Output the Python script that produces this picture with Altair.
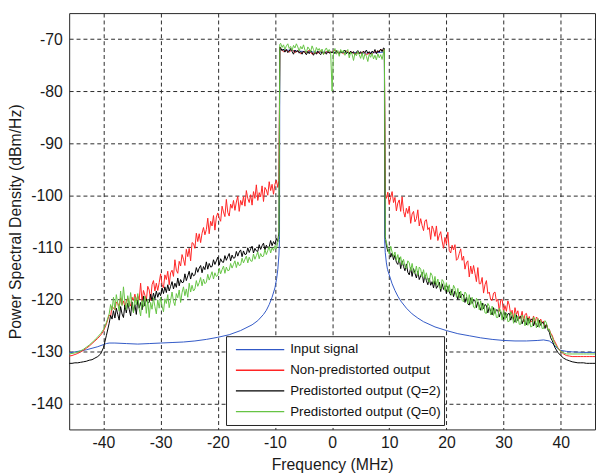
import altair as alt
import numpy as np
import pandas as pd

SERIES = ["Input signal", "Non-predistorted output",
          "Predistorted output (Q=2)", "Predistorted output (Q=0)"]
COLORS = ["#3158c6", "#ff2424", "#000000", "#66c444"]

X_TICKS = [-40, -30, -20, -10, 0, 10, 20, 30, 40]
Y_TICKS = [-140, -130, -120, -110, -100, -90, -80, -70]

# ---------------- frequency sample positions (MHz)
LEFT_F = ([round(v, 2) for v in np.arange(-46.0, -39.4, 0.5)]      # -46 .. -39.5
          + [round(v, 2) for v in np.arange(-39.0, -9.49, 0.25)]   # -39 .. -9.5
          + [-9.3])
RIGHT_F = ([9.3]
           + [round(v, 2) for v in np.arange(9.5, 39.01, 0.25)]    # 9.5 .. 39
           + [round(v, 2) for v in np.arange(39.5, 46.01, 0.5)])   # 39.5 .. 46
PASS_F_COARSE = [-9.15, -9.0, -8.5, -8.0, -7.5, -7.0, -6.5, -6.0, -5.5, -5.0, -4.5,
                 -4.0, -3.5, -3.0, -2.5, -2.0, -1.5, -1.0, -0.5, -0.1, 0.0, 0.1, 0.5,
                 1.0, 1.5, 2.0, 2.5, 3.0, 3.5, 4.0, 4.5, 5.0, 5.5, 6.0, 6.5, 7.0, 7.5,
                 8.0, 8.5, 9.0, 9.15]
PASS_F_FINE = [-9.15] + [round(v, 2) for v in np.arange(-9.0, 9.01, 0.25)] + [9.15]

# ---------------- Non-predistorted output (red)
RED_LEFT_OUT = [-130.9, -130.8, -130.6, -130.4, -130.1, -129.8, -129.4, -129.0, -128.5,
                -128.0, -127.5, -126.9, -126.1, -124.8]
RED_LEFT = [-123.0, -123.3, -121.3, -121.7, -122.0, -120.5, -120.8, -121.4,
            -119.7, -121.0, -120.3, -121.4, -120.4, -119.7, -120.7, -121.3,
            -119.6, -120.2, -119.0, -120.3, -119.3, -120.1, -116.9, -120.4,
            -118.3, -119.2, -120.2, -117.5, -118.2, -120.2, -117.2, -116.4,
            -118.4, -116.9, -118.3, -116.8, -115.1, -117.2, -117.8, -115.3,
            -116.2, -114.6, -117.2, -114.9, -114.4, -115.6, -112.4, -114.4,
            -115.0, -112.7, -113.6, -111.4, -112.3, -113.5, -110.4, -111.8,
            -110.2, -112.6, -109.1, -109.3, -110.2, -107.3, -108.9, -107.4,
            -109.1, -107.3, -106.2, -107.6, -106.6, -104.4, -107.4, -105.0,
            -105.9, -103.9, -106.7, -104.2, -103.4, -104.4, -105.0, -102.1,
            -103.2, -104.1, -100.8, -103.3, -104.0, -101.7, -102.5, -101.0,
            -102.9, -101.3, -100.2, -103.1, -101.0, -101.9, -100.2, -102.1,
            -99.1, -100.6, -101.4, -99.9, -101.9, -99.3, -100.6, -98.0,
            -101.0, -99.5, -100.3, -98.2, -101.2, -98.5, -99.0, -100.0,
            -97.4, -99.1, -97.9, -99.8, -97.9, -97.1, -98.5,
            -97.2]
RED_PASS = [-71.6, -71.9, -72.4, -72.1, -72.5, -72.0, -72.6, -72.2, -72.8, -72.4, -72.6,
            -72.1, -72.9, -72.5, -72.7, -72.3, -72.8, -72.4, -72.6, -72.5, -72.5, -72.5,
            -72.1, -72.7, -72.4, -72.8, -72.3, -72.6, -72.5, -72.9, -72.6, -72.7, -72.4,
            -73.0, -72.7, -72.8, -72.4, -72.5, -72.0, -72.3, -71.9]
RED_RIGHT = [-99.6,
             -100.6, -99.4,
             -101.8, -100.4, -99.3, -101.4, -100.4, -103.0, -101.5, -100.9,
             -103.1, -100.3, -103.1, -104.2, -102.5, -103.5, -102.1, -105.4,
             -103.6, -103.1, -105.1, -104.5, -102.8, -105.9, -104.5, -105.8,
             -106.8, -104.9, -104.7, -106.6, -106.2, -108.5, -105.9, -106.6,
             -107.9, -105.9, -108.7, -107.7, -107.0, -108.8, -110.2, -108.1,
             -109.4, -107.1, -110.6, -111.1, -109.6, -110.5, -109.5, -112.5,
             -112.2, -111.2, -110.3, -112.5, -111.7, -114.2, -113.0, -112.6,
             -115.7, -113.6, -115.1, -113.5, -115.0, -116.6, -113.9, -117.0,
             -117.0, -115.8, -118.8, -117.2, -116.4, -118.9, -118.6, -120.1,
             -120.2, -118.8, -118.6, -120.4, -120.0, -122.3, -120.2, -120.0,
             -122.5, -121.2, -122.3, -120.3, -121.1, -123.0, -122.1, -123.9,
             -121.6, -122.9, -122.2, -123.8, -123.5, -122.3, -124.3, -122.9,
             -122.7, -124.1, -123.3, -124.4, -124.1, -123.2, -124.8, -123.4,
             -123.7, -124.6, -123.8, -124.6, -124.2, -125.2, -124.8, -125.7,
             -125.8, -126.5, -126.9, -127.7,
             -128.2,
             -129.3, -130.0, -130.5, -130.8, -130.9, -131.0, -131.0, -131.0, -131.0,
             -131.0, -131.0, -131.0, -131.0, -131.0]

# ---------------- Predistorted output (Q=2) (black)
BLACK_LEFT_OUT = [-132.3, -132.3, -132.2, -132.2, -132.1, -132.0, -131.9, -131.7, -131.6,
                  -131.3, -131.0, -130.5, -129.3, -127.0]
BLACK_LEFT = [-124.6, -123.1, -123.8, -122.2, -123.6, -121.7, -122.9, -124.0,
              -121.4, -122.8, -123.5, -121.1, -122.6, -120.7, -121.9, -123.2,
              -120.5, -122.4, -121.0, -122.9, -120.1, -121.7, -120.6, -122.0,
              -119.4, -121.3, -119.9, -120.7, -120.6, -119.0, -120.3, -118.8,
              -119.9, -118.4, -119.6, -118.7, -119.3, -117.8, -118.9, -117.6,
              -118.7, -117.2, -118.4, -117.5, -116.6, -118.0, -116.9, -117.7,
              -115.9, -117.4, -116.2, -116.8, -116.7, -115.1, -116.4, -115.5,
              -114.6, -116.1, -114.9, -115.5, -115.3, -113.9, -114.8, -114.0,
              -113.5, -114.9, -113.7, -114.3, -112.8, -114.2, -113.1, -113.8,
              -113.7, -112.4, -113.3, -112.6, -111.9, -113.4, -112.2, -112.8,
              -112.9, -111.6, -112.5, -111.8, -111.2, -112.6, -111.5, -112.1,
              -112.0, -110.8, -111.7, -110.9, -110.5, -111.8, -110.7, -111.4,
              -111.3, -110.1, -111.0, -110.3, -109.8, -111.1, -110.2, -110.7,
              -110.8, -109.5, -110.4, -109.7, -109.2, -110.5, -109.6, -110.1,
              -109.9, -108.7, -109.7, -108.9, -109.4, -108.3, -108.9,
              -107.0]
BLACK_PASS = [-71.5,
              -71.7, -72.2, -71.9, -72.5, -72.0, -72.6, -72.3, -71.8,
              -72.4, -72.9, -72.1, -72.5, -72.2, -72.7, -72.4, -72.9,
              -72.3, -72.6, -73.0, -72.4, -72.8, -72.2, -72.6, -73.1,
              -72.5, -72.9, -72.3, -72.7, -73.0, -72.4, -72.8, -72.5,
              -72.9, -72.3, -72.7, -72.5,
              -72.6,
              -72.4, -72.8, -72.2, -72.6, -72.9, -72.3, -72.7, -72.4,
              -72.1, -72.8, -72.5, -72.9, -72.3, -72.7, -72.4, -73.0,
              -72.5, -72.2, -72.8, -72.4, -72.9, -72.3, -72.6, -72.1,
              -72.7, -72.4, -72.9, -72.3, -72.6, -72.0, -72.8, -72.2,
              -72.5, -71.9, -72.4, -71.7,
              -71.8]
BLACK_RIGHT = [-108.0,
               -109.6, -110.8,
               -110.4, -111.9, -111.1, -112.4, -111.5, -112.9, -113.3, -112.0,
               -114.1, -112.6, -113.7, -114.5, -113.2, -114.8, -115.3, -113.9,
               -115.6, -114.1, -115.0, -115.9, -114.6, -116.2, -115.5, -114.8,
               -116.8, -115.3, -116.4, -117.2, -115.9, -117.3, -116.6, -117.8,
               -116.4, -117.9, -117.4, -116.7, -118.5, -117.0, -118.1, -117.4,
               -118.9, -117.5, -118.6, -119.2, -118.0, -119.5, -118.4, -119.1,
               -120.0, -118.6, -119.7, -119.0, -119.2, -120.6, -119.6, -120.9,
               -121.1, -119.7, -120.8, -120.1, -120.2, -121.6, -120.5, -121.3,
               -122.1, -120.7, -121.8, -121.0, -121.2, -122.6, -121.5, -122.3,
               -123.0, -121.6, -122.7, -122.0, -122.1, -123.4, -122.4, -123.1,
               -123.8, -122.5, -123.5, -122.8, -122.7, -124.0, -123.1, -123.8,
               -124.4, -123.0, -124.1, -123.4, -123.3, -124.7, -123.8, -124.4,
               -124.9, -123.6, -124.6, -123.9, -123.8, -125.1, -124.2, -124.9,
               -125.3, -124.0, -125.0, -124.4, -124.5, -125.6, -124.8, -125.9,
               -126.3, -127.4, -127.9, -128.6,
               -129.3,
               -130.2, -130.8, -131.3, -131.6, -131.8, -132.0, -132.1, -132.2, -132.2,
               -132.2, -132.3, -132.3, -132.3, -132.3]

# ---------------- Predistorted output (Q=0) (green)
GREEN_LEFT_OUT = [-130.5, -130.4, -130.3, -130.1, -129.9, -129.6, -129.2, -128.8, -128.3,
                  -127.8, -127.2, -126.6, -125.8, -124.5]
GREEN_LEFT = [-122.8, -121.0, -122.1, -119.6, -121.9, -119.1, -120.8, -122.3,
              -118.4, -121.2, -117.6, -120.5, -122.0, -119.3, -121.4, -118.7,
              -120.9, -122.6, -119.5, -121.1, -118.9, -121.8, -123.2, -120.2,
              -121.5, -119.4, -122.7, -120.0, -123.5, -120.6, -121.9, -119.7,
              -121.4, -122.8, -120.1, -121.7, -119.6, -121.3, -122.4, -119.9,
              -120.8, -119.1, -121.6, -120.2, -118.6, -120.4, -121.2, -118.9,
              -119.7, -118.2, -120.6, -118.7, -117.6, -119.3, -118.0, -119.6,
              -116.9, -118.6, -117.3, -118.4, -118.0, -116.4, -117.5, -116.8,
              -115.8, -117.4, -116.1, -117.0, -116.7, -115.2, -116.3, -115.5,
              -114.7, -116.1, -114.9, -115.6, -115.4, -114.0, -115.1, -114.3,
              -113.6, -115.0, -113.8, -114.5, -114.4, -113.1, -114.0, -113.3,
              -112.6, -113.9, -112.8, -113.5, -113.4, -112.1, -113.0, -112.3,
              -111.7, -113.0, -111.9, -112.6, -112.7, -111.3, -112.3, -111.6,
              -110.9, -112.2, -111.2, -111.8, -111.7, -110.4, -111.4, -110.6,
              -109.9, -111.1, -110.1, -110.6, -109.7, -110.3, -109.0,
              -107.8]
GREEN_PASS = [-71.0,
              -70.8, -71.6, -71.1, -72.0, -71.3, -70.9, -71.8, -71.4,
              -72.2, -71.2, -71.7, -70.9, -71.5, -72.3, -71.4, -71.9,
              -71.1, -72.1, -72.6, -71.5, -71.9, -72.4, -71.3, -72.0,
              -72.7, -71.6, -72.2, -71.8, -72.5, -71.9, -73.0, -72.1,
              -71.7, -72.4, -72.0, -72.6,
              -80.0,
              -72.3, -71.8, -72.9, -72.2, -73.3, -72.0, -72.6, -72.1,
              -73.1, -72.4, -72.0, -73.6, -72.5, -72.9, -74.1, -72.7,
              -73.2, -72.4, -73.0, -73.7, -72.6, -73.9, -72.8, -73.3,
              -74.3, -72.9, -73.5, -72.7, -73.8, -73.1, -74.0, -72.8,
              -73.6, -73.0, -73.9, -72.6,
              -72.0]
GREEN_RIGHT = [-108.3,
               -109.0, -110.2,
               -111.3, -109.8, -110.9, -111.8, -110.9, -112.5, -111.4, -112.9,
               -111.8, -113.4, -112.3, -113.7, -114.1, -112.6, -113.0, -114.5,
               -113.1, -114.8, -115.0, -113.6, -115.4, -113.8, -114.2, -115.7,
               -114.3, -116.0, -114.9, -116.3, -116.7, -114.9, -115.4, -117.0,
               -115.6, -117.3, -116.1, -117.7, -118.0, -116.2, -116.6, -118.3,
               -116.8, -118.6, -117.2, -119.0, -119.2, -117.3, -117.9, -119.6,
               -117.9, -119.8, -118.4, -120.2, -120.5, -118.6, -119.0, -120.9,
               -119.1, -121.0, -119.6, -121.5, -121.7, -119.8, -120.2, -122.0,
               -120.3, -122.1, -120.8, -122.6, -122.7, -120.8, -121.3, -123.0,
               -121.3, -123.1, -121.8, -123.5, -123.5, -121.7, -122.2, -124.0,
               -122.1, -123.9, -122.6, -124.3, -124.2, -122.4, -122.9, -124.6,
               -122.7, -124.5, -123.2, -124.8, -124.8, -123.0, -123.5, -125.1,
               -123.2, -125.0, -123.7, -125.3, -125.2, -123.4, -123.9, -125.5,
               -123.7, -125.4, -124.1, -125.6, -125.6, -124.1, -124.5, -125.9,
               -125.7, -126.8, -127.2, -128.0,
               -128.6,
               -129.4, -130.0, -130.3, -130.5, -130.5, -130.5, -130.5, -130.5, -130.5,
               -130.5, -130.5, -130.5, -130.5, -130.5]

# ---------------- Input signal (blue), smooth
BLUE_F = [-46, -45, -44, -43, -42, -41, -40, -39.5, -39, -38, -36, -34, -32, -30, -28, -26,
          -24, -22, -20, -18, -16, -14, -13, -12, -11.5, -11, -10.5, -10, -9.7, -9.5, -9.3,
          -9.2, -9.15, -6, -3, 0, 3, 6, 9.15, 9.2, 9.3, 9.5, 9.7, 10, 10.5, 11, 11.5, 12, 13,
          14, 15, 16, 18, 20, 22, 24, 26, 28, 30, 32, 34, 36, 37, 38, 38.5, 39, 39.5, 40, 41,
          42, 44, 46]
BLUE_Y = [-130.3, -130.1, -129.9, -129.7, -129.4, -129.1, -128.7, -128.5, -128.4, -128.4,
          -128.5, -128.6, -128.5, -128.4, -128.3, -128.2, -128.0, -127.7, -127.3, -126.8,
          -126.0, -124.9, -124.1, -122.9, -122.1, -121.0, -119.6, -117.8, -116.0, -114.3,
          -111.5, -108.5, -72.0, -72.3, -72.5, -72.5, -72.6, -72.7, -72.5, -108.8, -111.0,
          -113.0, -114.3, -115.3, -117.0, -118.3, -119.4, -120.3, -121.7, -122.8, -123.6,
          -124.3, -125.3, -126.0, -126.6, -127.0, -127.4, -127.7, -127.9, -128.0, -128.0,
          -127.9, -127.8, -128.0, -128.4, -129.0, -129.5, -129.8, -130.0, -130.1, -130.2,
          -130.2]

traces = {
    SERIES[0]: (BLUE_F, BLUE_Y),
    SERIES[1]: (LEFT_F + PASS_F_COARSE + RIGHT_F,
                RED_LEFT_OUT + RED_LEFT + RED_PASS + RED_RIGHT),
    SERIES[2]: (LEFT_F + PASS_F_FINE + RIGHT_F,
                BLACK_LEFT_OUT + BLACK_LEFT + BLACK_PASS + BLACK_RIGHT),
    SERIES[3]: (LEFT_F + PASS_F_FINE + RIGHT_F,
                GREEN_LEFT_OUT + GREEN_LEFT + GREEN_PASS + GREEN_RIGHT),
}

frames = []
for name, (fx, fy) in traces.items():
    assert len(fx) == len(fy), (name, len(fx), len(fy))
    frames.append(pd.DataFrame({"f": fx, "p": fy, "s": name, "i": range(len(fx))}))
df = pd.concat(frames, ignore_index=True)

FONT = "Liberation Sans"
HYPHEN = "'' + datum.value"

x_enc = alt.X("f:Q", scale=alt.Scale(domain=[-46, 46], nice=False, zero=False),
              axis=alt.Axis(values=X_TICKS, title="Frequency (MHz)", labelExpr=HYPHEN,
                            labelPadding=5, titlePadding=7))
y_enc = alt.Y("p:Q", scale=alt.Scale(domain=[-145, -65], nice=False, zero=False),
              axis=alt.Axis(values=Y_TICKS, title="Power Spectral Density (dBm/Hz)",
                            labelExpr=HYPHEN, labelPadding=7, titlePadding=7))
color_enc = alt.Color(
    "s:N",
    scale=alt.Scale(domain=SERIES, range=COLORS),
    legend=alt.Legend(
        title=None, orient="none", legendX=159, legendY=327.5,
        symbolType="stroke", symbolSize=2401, symbolStrokeWidth=1.3,
        clipHeight=21, rowPadding=0, padding=3, symbolOffset=6, labelOffset=5,
        labelFont=FONT, labelFontSize=13.5, labelColor="#111", labelLimit=400,
        fillColor="white", strokeColor="#222",
    ),
)

layers = []
for name in SERIES:
    layers.append(
        alt.Chart(df[df["s"] == name]).mark_line(strokeWidth=1, clip=True).encode(
            x=x_enc, y=y_enc, color=color_enc, order=alt.Order("i:Q")
        )
    )

chart = alt.layer(*layers).properties(
    width=533, height=422,
    background="white",
    autosize=alt.AutoSizeParams(type="none"),
    padding={"left": 62, "top": 2, "right": 1, "bottom": 42},
).configure_view(
    stroke="#262626", strokeWidth=1
).configure_axis(
    grid=True, gridColor="#2a2a2a", gridDash=[4, 3], gridWidth=1, gridOpacity=1,
    ticks=False, domain=False,
    labelFont=FONT, labelFontSize=16, labelColor="#1a1a1a",
    titleFont=FONT, titleFontSize=16, titleFontWeight="normal", titleColor="#1a1a1a",
)

chart.save("out.html", embed_options={"renderer": "svg", "actions": False})
